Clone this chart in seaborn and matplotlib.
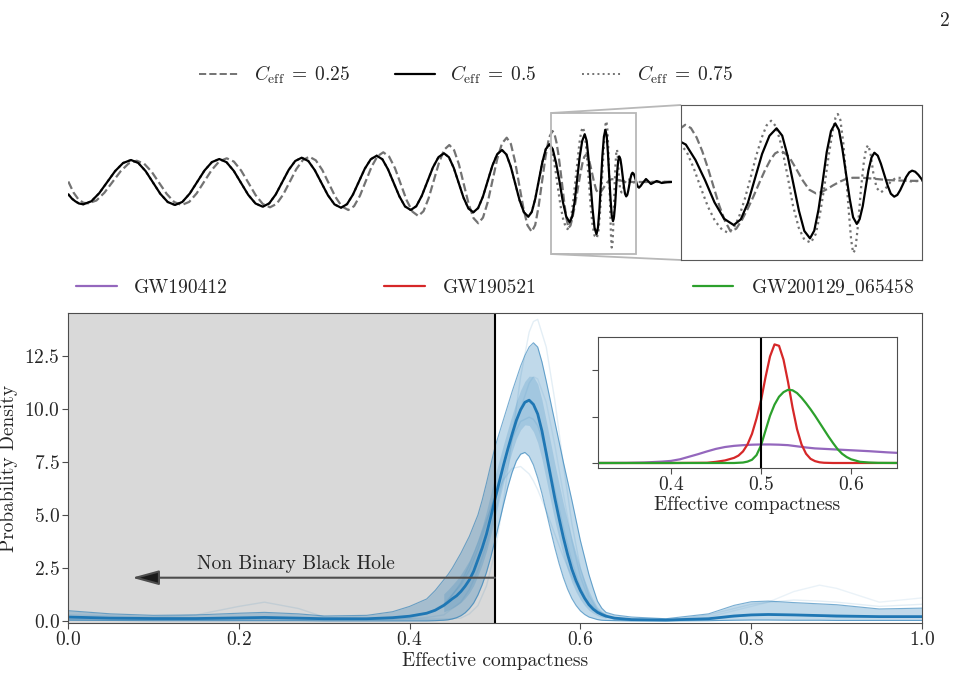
import matplotlib
matplotlib.use("Agg")
import matplotlib.pyplot as plt
from matplotlib.lines import Line2D
import seaborn as sns

sns.set_style("ticks")
plt.rcParams["font.family"] = "serif"
plt.rcParams["font.serif"] = ["cmr10"]
plt.rcParams["mathtext.fontset"] = "cm"
plt.rcParams["axes.formatter.use_mathtext"] = True

# --- waveform data (time, strain) ---
solid_pts = [(0.003, -1.18), (0.04, -1.62), (0.073, -1.88), (0.11, -2.1), (0.153, -2.18),
             (0.233, -1.88), (0.312, -1.07), (0.392, 0.04), (0.471, 1.14), (0.551, 1.95), (0.63, 2.25),
             (0.703, 1.95), (0.777, 1.13), (0.85, 0.0), (0.923, -1.13), (0.997, -1.95), (1.07, -2.25),
             (1.144, -1.94), (1.218, -1.10), (1.292, 0.05), (1.365, 1.20), (1.439, 2.04), (1.513, 2.35),
             (1.585, 2.03), (1.658, 1.16), (1.73, -0.03), (1.802, -1.23), (1.875, -2.10), (1.947, -2.42),
             (2.012, -2.09), (2.077, -1.20), (2.142, 0.03), (2.207, 1.26), (2.272, 2.15), (2.337, 2.48),
             (2.403, 2.15), (2.468, 1.23), (2.534, -0.02), (2.599, -1.27), (2.665, -2.19), (2.73, -2.52),
             (2.79, -2.17), (2.849, -1.22), (2.909, 0.08), (2.968, 1.38), (3.028, 2.33), (3.087, 2.68),
             (3.144, 2.32), (3.2, 1.32), (3.257, -0.04), (3.314, -1.39), (3.37, -2.39), (3.427, -2.75),
             (3.483, -2.37), (3.538, -1.33), (3.594, 0.09), (3.649, 1.50), (3.705, 2.54), (3.76, 2.92),
             (3.809, 2.53), (3.858, 1.45), (3.907, -0.03), (3.955, -1.51), (4.004, -2.59), (4.053, -2.98),
             (4.101, -2.56), (4.149, -1.42), (4.197, 0.14), (4.244, 1.69), (4.292, 2.83), (4.34, 3.25),
             (4.384, 2.80), (4.428, 1.58), (4.472, -0.09), (4.515, -1.75), (4.559, -2.97), (4.603, -3.42),
             (4.638, -2.94), (4.673, -1.61), (4.708, 0.2), (4.743, 2.01), (4.778, 3.34), (4.813, 3.82),
             (4.847, 3.35), (4.881, 1.95), (4.915, 0.1), (4.948, -1.9), (4.982, -3.4), (5.016, -3.97),
             (5.041, -3.45), (5.066, -1.95), (5.09, 0.2), (5.116, 2.5), (5.142, 4.15), (5.167, 4.83),
             (5.187, 4.16), (5.206, 2.33), (5.226, -0.18), (5.246, -2.68), (5.265, -4.51), (5.285, -5.18),
             (5.3, -4.48), (5.315, -2.57), (5.33, 0.05), (5.344, 2.67), (5.359, 4.58), (5.374, 5.28),
             (5.387, 4.67), (5.399, 2.99), (5.412, 0.7), (5.425, -1.58), (5.437, -3.26), (5.45, -3.87),
             (5.46, -3.44), (5.471, -2.25), (5.481, -0.63), (5.491, 0.99), (5.502, 2.18), (5.512, 2.61),
             (5.524, 2.34), (5.535, 1.61), (5.547, 0.61), (5.559, -0.39), (5.57, -1.12), (5.582, -1.39),
             (5.593, -1.23), (5.603, -0.8), (5.614, -0.2), (5.624, 0.39), (5.635, 0.82), (5.645, 0.98),
             (5.656, 0.88), (5.667, 0.6), (5.678, 0.23), (5.688, -0.15), (5.699, -0.42), (5.71, -0.52),
             (5.728, -0.33), (5.745, -0.08), (5.763, 0.15), (5.78, 0.35), (5.805, 0.1), (5.83, -0.15),
             (5.858, 0.0), (5.887, 0.15), (5.912, 0.05), (5.937, -0.05), (5.97, 0.0), (6.0, 0.03),
             (6.037, 0.05)]

dash_pts = [(0.003, 0.1), (0.055, -1.0), (0.105, -1.7), (0.155, -2.03), (0.203, -2.08),
            (0.284, -1.80), (0.364, -1.02), (0.445, 0.05), (0.526, 1.12), (0.606, 1.90), (0.687, 2.18),
            (0.762, 1.88), (0.837, 1.07), (0.912, -0.04), (0.987, -1.14), (1.062, -1.95), (1.137, -2.25),
            (1.212, -1.94), (1.287, -1.08), (1.362, 0.09), (1.437, 1.25), (1.512, 2.11), (1.587, 2.42),
            (1.659, 2.09), (1.731, 1.20), (1.804, -0.03), (1.876, -1.26), (1.948, -2.15), (2.02, -2.48),
            (2.086, -2.14), (2.151, -1.22), (2.217, 0.05), (2.282, 1.32), (2.348, 2.24), (2.413, 2.58),
            (2.478, 2.22), (2.543, 1.25), (2.608, -0.09), (2.673, -1.42), (2.738, -2.39), (2.803, -2.75),
            (2.861, -2.36), (2.92, -1.31), (2.978, 0.14), (3.036, 1.58), (3.095, 2.63), (3.153, 3.02),
            (3.211, 2.59), (3.27, 1.43), (3.328, -0.17), (3.386, -1.76), (3.445, -2.92), (3.503, -3.35),
            (3.555, -2.87), (3.606, -1.58), (3.658, 0.2), (3.71, 1.98), (3.761, 3.27), (3.813, 3.75),
            (3.861, 3.23), (3.91, 1.79), (3.958, -0.17), (4.006, -2.12), (4.055, -3.56), (4.103, -4.08),
            (4.15, -3.51), (4.198, -1.94), (4.245, 0.2), (4.292, 2.34), (4.34, 3.91), (4.387, 4.48),
            (4.429, 3.85), (4.47, 2.13), (4.512, -0.22), (4.554, -2.57), (4.595, -4.29), (4.637, -4.92),
            (4.672, -4.25), (4.706, -2.40), (4.741, 0.12), (4.776, 2.63), (4.81, 4.48), (4.845, 5.15),
            (4.865, 4.85), (4.885, 4.0), (4.905, 2.75), (4.925, 1.2), (4.945, -0.5), (4.965, -2.2),
            (4.985, -3.6), (5.005, -4.55), (5.025, -4.3), (5.045, -3.5), (5.065, -2.5), (5.085, -1.4),
            (5.105, -0.2), (5.125, 0.95), (5.145, 1.95), (5.162, 2.55), (5.177, 2.75), (5.192, 2.65),
            (5.212, 2.2), (5.235, 1.2), (5.259, 0.1), (5.282, -0.75), (5.306, -1.09), (5.325, -0.98),
            (5.345, -0.7), (5.365, -0.38), (5.388, -0.05), (5.41, 0.2), (5.435, 0.33), (5.47, 0.33),
            (5.506, 0.25), (5.56, 0.12), (5.62, 0.06), (5.68, 0.04), (5.8, 0.06), (5.9, 0.07),
            (6.037, 0.08)]

# C_eff = 0.75 follows the solid curve until the merger
dot_late_pts = [(4.85, 2.7), (4.875, 1.2), (4.9, -0.6), (4.925, -2.3), (4.95, -3.6), (4.975, -4.4),
                (4.995, -4.66), (5.015, -4.3), (5.035, -3.2), (5.055, -1.6), (5.075, 0.3), (5.095, 2.3),
                (5.115, 4.0), (5.132, 5.1), (5.148, 5.52), (5.165, 5.0), (5.185, 3.2), (5.205, 0.6),
                (5.225, -2.2), (5.245, -4.2), (5.265, -5.3), (5.288, -5.57), (5.305, -4.8), (5.32, -3.0),
                (5.335, -0.6), (5.35, 2.2), (5.365, 4.6), (5.375, 5.8), (5.383, 6.13), (5.392, 5.6),
                (5.402, 3.6), (5.412, 0.6), (5.422, -2.8), (5.43, -5.3), (5.437, -6.5), (5.445, -6.2),
                (5.455, -3.8), (5.465, -0.6), (5.475, 1.8), (5.483, 3.0), (5.49, 3.3), (5.498, 2.6),
                (5.508, 0.8), (5.52, -0.6), (5.535, -1.0), (5.55, -0.7), (5.57, 0.0), (5.59, 0.35),
                (5.61, 0.3), (5.64, 0.0), (5.68, 0.05), (5.8, 0.05), (6.037, 0.05)]
dot_pts = [p for p in solid_pts if p[0] <= 4.813] + dot_late_pts

# --- effective compactness posterior ---
x_band = [0.00, 0.05, 0.10, 0.15, 0.20, 0.23, 0.27, 0.30, 0.35, 0.38, 0.40, 0.42, 0.43,
          0.44, 0.445, 0.45, 0.455, 0.46, 0.465, 0.47, 0.475, 0.48, 0.485, 0.49, 0.495, 0.5,
          0.505, 0.51, 0.515, 0.52, 0.525, 0.53, 0.535, 0.54, 0.545, 0.55, 0.555, 0.56, 0.565,
          0.57, 0.575, 0.58, 0.585, 0.59, 0.595, 0.6, 0.605, 0.61, 0.615, 0.62, 0.625, 0.63,
          0.64, 0.66, 0.70, 0.75, 0.78, 0.80, 0.82, 0.85, 0.88, 0.90, 0.95, 1.00]
median = [0.2, 0.15, 0.13, 0.13, 0.16, 0.18, 0.15, 0.12, 0.12, 0.17, 0.24, 0.38, 0.52,
          0.75, 0.9, 1.06, 1.2, 1.4, 1.65, 1.95, 2.35, 2.9, 3.45, 4.1, 4.9, 5.75,
          6.55, 7.35, 8.1, 8.8, 9.45, 9.95, 10.3, 10.4, 10.2, 9.75, 8.95, 7.9, 6.85,
          5.8, 4.85, 3.95, 3.15, 2.45, 1.9, 1.45, 1.08, 0.78, 0.57, 0.42, 0.32, 0.24,
          0.15, 0.08, 0.06, 0.12, 0.25, 0.3, 0.32, 0.3, 0.27, 0.25, 0.22, 0.22]
upper = [0.5, 0.35, 0.28, 0.3, 0.38, 0.42, 0.35, 0.25, 0.28, 0.45, 0.7, 1.05, 1.45,
         1.95, 2.2, 2.5, 2.85, 3.2, 3.6, 4.0, 4.5, 5.0, 5.7, 6.5, 7.35, 8.2,
         8.85, 9.5, 10.15, 10.8, 11.4, 12.0, 12.5, 12.9, 13.1, 12.9, 12.2, 11.3, 10.35,
         9.4, 8.45, 7.5, 6.6, 5.7, 4.75, 3.8, 3.0, 2.2, 1.55, 0.95, 0.62, 0.42,
         0.3, 0.2, 0.12, 0.35, 0.75, 0.92, 0.95, 0.88, 0.82, 0.78, 0.58, 0.62]
lower = [0.05, 0.04, 0.03, 0.03, 0.03, 0.03, 0.03, 0.02, 0.02, 0.02, 0.02, 0.02, 0.03,
         0.05, 0.07, 0.11, 0.17, 0.26, 0.4, 0.6, 0.86, 1.24, 1.72, 2.3, 3.01, 3.8,
         4.65, 5.5, 6.31, 7.0, 7.54, 7.86, 7.94, 7.76, 7.35, 6.74, 6.0, 5.16, 4.3,
         3.47, 2.72, 2.06, 1.51, 1.07, 0.74, 0.49, 0.32, 0.2, 0.14, 0.08, 0.05, 0.04,
         0.03, 0.02, 0.02, 0.03, 0.05, 0.06, 0.06, 0.05, 0.05, 0.04, 0.04, 0.04]

# denser core of the draws around the peak
x_core = [0.44, 0.445, 0.45, 0.455, 0.46, 0.465, 0.47, 0.475, 0.48, 0.485, 0.49, 0.495, 0.5,
          0.505, 0.51, 0.515, 0.52, 0.525, 0.53, 0.535, 0.54, 0.545, 0.55, 0.555, 0.56, 0.565,
          0.57, 0.575, 0.58, 0.585, 0.59, 0.595, 0.6, 0.605, 0.61, 0.615, 0.62, 0.625, 0.63]
core_hi = [1.29, 1.49, 1.71, 1.94, 2.21, 2.53, 2.87, 3.32, 3.85, 4.46, 5.18, 6.0, 6.85,
           7.59, 8.32, 9.02, 9.7, 10.33, 10.87, 11.29, 11.53, 11.51, 11.17, 10.41, 9.43, 8.43,
           7.42, 6.47, 5.55, 4.7, 3.91, 3.18, 2.51, 1.94, 1.42, 1.01, 0.66, 0.46, 0.32]
core_lo = [0.44, 0.53, 0.63, 0.74, 0.89, 1.09, 1.34, 1.68, 2.15, 2.67, 3.29, 4.05, 4.87,
           5.7, 6.52, 7.29, 7.99, 8.59, 9.01, 9.24, 9.21, 8.92, 8.4, 7.62, 6.67, 5.7,
           4.75, 3.89, 3.1, 2.41, 1.83, 1.38, 1.02, 0.74, 0.52, 0.38, 0.27, 0.2, 0.15]

# a few individual posterior draws (faint lines)
x_draw = [0.00, 0.05, 0.10, 0.15, 0.20, 0.23, 0.27, 0.30, 0.35, 0.38, 0.40, 0.42, 0.44, 0.46, 0.47,
          0.48, 0.49, 0.50, 0.51, 0.52, 0.53, 0.54, 0.545, 0.55, 0.56, 0.57, 0.58, 0.59, 0.60, 0.61,
          0.62, 0.64, 0.66, 0.70, 0.75, 0.78, 0.80, 0.82, 0.85, 0.88, 0.90, 0.95, 1.00]
draw_tall = [0.1, 0.1, 0.1, 0.1, 0.1, 0.1, 0.1, 0.1, 0.1, 0.1, 0.1, 0.1, 0.1, 0.15, 0.35,
             0.74, 1.66, 3.27, 5.65, 8.6, 11.5, 13.6, 14.1, 14.2, 12.9, 10.4, 7.4, 4.6, 2.5, 1.2,
             0.52, 0.06, 0.05, 0.05, 0.3, 0.6, 0.8, 0.9, 1.0, 0.95, 0.9, 0.7, 0.8]
draw_low = [0.1, 0.1, 0.1, 0.1, 0.1, 0.1, 0.1, 0.1, 0.1, 0.15, 0.25, 0.4, 0.68, 1.8, 2.65,
            3.66, 4.76, 5.8, 6.67, 7.19, 7.28, 6.93, 6.6, 6.19, 5.2, 4.1, 3.04, 2.1, 1.38, 0.85,
            0.49, 0.13, 0.03, 0.03, 0.1, 0.2, 0.3, 0.3, 0.3, 0.25, 0.2, 0.2, 0.2]
draw_bump_a = [0.3, 0.25, 0.2, 0.3, 0.7, 0.9, 0.6, 0.2, 0.1, 0.1, 0.15, 0.35, 0.8, 1.7, 2.4,
               3.4, 4.6, 6.0, 7.4, 8.6, 9.4, 9.6, 9.5, 9.2, 8.0, 6.2, 4.4, 2.8, 1.6, 0.85,
               0.4, 0.1, 0.05, 0.05, 0.1, 0.2, 0.3, 0.35, 0.3, 0.25, 0.2, 0.2, 0.2]
draw_bump_b = [0.1, 0.1, 0.1, 0.1, 0.1, 0.1, 0.1, 0.1, 0.1, 0.1, 0.12, 0.18, 0.3, 0.9, 1.5,
               2.4, 3.6, 5.1, 6.8, 8.5, 10.0, 11.2, 11.5, 11.4, 10.3, 8.3, 6.0, 3.8, 2.1, 1.0,
               0.45, 0.1, 0.05, 0.05, 0.2, 0.5, 0.7, 0.9, 1.4, 1.7, 1.55, 0.9, 1.1]

# --- individual events for the inset ---
events = ["GW190412", "GW190521", r"GW200129$\_$065458"]
event_colors = ["#9467bd", "#d62728", "#2ca02c"]
x_190412 = [0.32, 0.35, 0.37, 0.39, 0.40, 0.41, 0.42, 0.43, 0.44, 0.45, 0.46, 0.47, 0.48, 0.49, 0.50,
            0.51, 0.52, 0.53, 0.54, 0.55, 0.56, 0.57, 0.58, 0.59, 0.60, 0.62, 0.64, 0.66]
y_190412 = [0.0, 0.02, 0.1, 0.3, 0.45, 0.8, 1.35, 1.9, 2.5, 3.05, 3.45, 3.7, 3.85, 3.95, 4.0,
            4.0, 3.95, 3.85, 3.6, 3.35, 3.15, 3.05, 2.95, 2.85, 2.75, 2.55, 2.3, 2.1]
x_190521 = [0.32, 0.40, 0.44, 0.45, 0.46, 0.47, 0.475, 0.48, 0.485, 0.49, 0.495, 0.50, 0.505, 0.51,
            0.515, 0.52, 0.525, 0.53, 0.535, 0.54, 0.545, 0.55, 0.555, 0.56, 0.565, 0.57, 0.58, 0.66]
y_190521 = [0.0, 0.0, 0.05, 0.25, 0.55, 1.1, 1.6, 2.5, 4.0, 6.3, 9.6, 13.5, 18.5, 23.0,
            25.6, 25.3, 22.3, 17.5, 12.0, 7.3, 4.0, 2.0, 0.9, 0.4, 0.15, 0.05, 0.0, 0.0]
x_200129 = [0.32, 0.47, 0.48, 0.485, 0.49, 0.495, 0.50, 0.505, 0.51, 0.515, 0.52, 0.525, 0.53, 0.535,
            0.54, 0.545, 0.55, 0.555, 0.56, 0.565, 0.57, 0.575, 0.58, 0.585, 0.59, 0.595, 0.60, 0.61,
            0.62, 0.63, 0.66]
y_200129 = [0.0, 0.0, 0.1, 0.3, 0.7, 1.7, 3.8, 7.0, 10.2, 12.6, 14.3, 15.3, 15.8, 15.7,
            15.1, 14.1, 12.9, 11.6, 10.2, 8.7, 7.2, 5.7, 4.3, 3.0, 2.0, 1.3, 0.8, 0.25,
            0.1, 0.03, 0.0]

blue = "#1f77b4"
W, H = 971, 677


def box(left, top, right, bottom):
    return [left / W, 1 - bottom / H, (right - left) / W, (bottom - top) / H]


fig = plt.figure(figsize=(W / 100, H / 100), dpi=100)
ax_w = fig.add_axes(box(68, 105, 672, 260))
ax_z = fig.add_axes(box(681, 105, 922, 260))
ax = fig.add_axes(box(68, 313, 922, 623))
ax_in = fig.add_axes(box(598, 337, 897, 468))

# waveforms
wave_styles = [(dash_pts, "--", "0.45"), (dot_pts, ":", "0.45"), (solid_pts, "-", "k")]
for a in (ax_w, ax_z):
    for pts, ls, col in wave_styles:
        t, h = zip(*pts)
        sns.lineplot(x=list(t), y=list(h), ax=a, color=col, linestyle=ls, lw=1.6,
                     estimator=None, sort=False, legend=False)
ax_w.set_xlim(0, 6.04)
ax_w.set_ylim(-7.75, 7.75)
ax_w.axis("off")
ax_z.set_xlim(4.83, 5.68)
ax_z.set_ylim(-7.15, 6.95)
ax_z.set_xticks([])
ax_z.set_yticks([])
ax_z.set_xlabel("")
ax_z.set_ylabel("")
for s in ax_z.spines.values():
    s.set_color("0.35")
ax_w.indicate_inset_zoom(ax_z, edgecolor="0.72", alpha=1, lw=1.3)

wave_handles = [Line2D([], [], color="0.45", ls="--", lw=1.4),
                Line2D([], [], color="k", ls="-", lw=1.6),
                Line2D([], [], color="0.45", ls=":", lw=1.4)]
wave_labels = [r"$C_{\rm eff}\;=\;0.25$", r"$C_{\rm eff}\;=\;0.5$", r"$C_{\rm eff}\;=\;0.75$"]
fig.legend(wave_handles, wave_labels, loc="center", bbox_to_anchor=(466 / W, 1 - 75 / H),
           ncol=3, frameon=False, fontsize=14, handlelength=2.06, handletextpad=0.77,
           columnspacing=2.3)

# posterior panel
ax.axvspan(0, 0.5, color="#d9d9d9", lw=0, zorder=0)
ax.fill_between(x_band, lower, upper, color=blue, alpha=0.28, lw=0)
ax.fill_between(x_core, core_lo, core_hi, color=blue, alpha=0.18, lw=0)
for d, al in ((draw_tall, 0.12), (draw_low, 0.12), (draw_bump_a, 0.12), (draw_bump_b, 0.09)):
    sns.lineplot(x=x_draw, y=d, ax=ax, color=blue, alpha=al, lw=1, estimator=None, legend=False)
for d in (upper, lower):
    sns.lineplot(x=x_band, y=d, ax=ax, color=blue, alpha=0.6, lw=0.8, estimator=None, legend=False)
sns.lineplot(x=x_band, y=median, ax=ax, color=blue, lw=2, estimator=None, legend=False)
ax.axvline(0.5, color="k", lw=1.5)
ax.annotate("", xy=(0.075, 2.05), xytext=(0.5, 2.05),
            arrowprops=dict(arrowstyle="-|>,head_length=1.1,head_width=0.3", mutation_scale=15,
                            fc="0.1", ec="0.3", lw=1.5, shrinkA=0, shrinkB=0))
ax.text(0.267, 2.25, "Non Binary Black Hole", ha="center", va="bottom", fontsize=14)
ax.set_xlim(0, 1)
ax.set_ylim(-0.08, 14.5)
ax.set_xticks([0, 0.2, 0.4, 0.6, 0.8, 1.0])
ax.set_yticks([0, 2.5, 5, 7.5, 10, 12.5])
ax.set_xlabel("Effective compactness", fontsize=14, labelpad=2)
ax.set_ylabel("Probability Density", fontsize=14, labelpad=4)
ax.tick_params(labelsize=14, length=4, color="0.3", pad=2)
for s in ax.spines.values():
    s.set_color("0.3")

# inset with the individual events
inset_data = [(x_190412, y_190412), (x_190521, y_190521), (x_200129, y_200129)]
for (xs, ys), col in zip(inset_data, event_colors):
    sns.lineplot(x=xs, y=ys, ax=ax_in, color=col, lw=1.6, estimator=None, legend=False)
ax_in.axvline(0.5, color="k", lw=1.5)
ax_in.set_xlim(0.319, 0.651)
ax_in.set_ylim(-1.08, 27.2)
ax_in.set_xticks([0.4, 0.5, 0.6])
ax_in.set_yticks([0, 10, 20])
ax_in.set_yticklabels([])
ax_in.set_xlabel("Effective compactness", fontsize=14, labelpad=1)
ax_in.set_ylabel("")
ax_in.tick_params(labelsize=14, length=4, color="0.3", pad=2)
for s in ax_in.spines.values():
    s.set_color("0.3")

ev_handles = [Line2D([], [], color=c, lw=1.6) for c in event_colors]
ax.legend(ev_handles, events, loc="lower left", bbox_to_anchor=(0, 1.026, 1, 0.1), mode="expand",
          ncol=3, borderaxespad=0, frameon=False, fontsize=14, handlelength=2.1, handletextpad=0.9)

fig.text(0.978, 0.982, "2", ha="right", va="top", fontsize=14)

fig.savefig("out.png", dpi=100)
